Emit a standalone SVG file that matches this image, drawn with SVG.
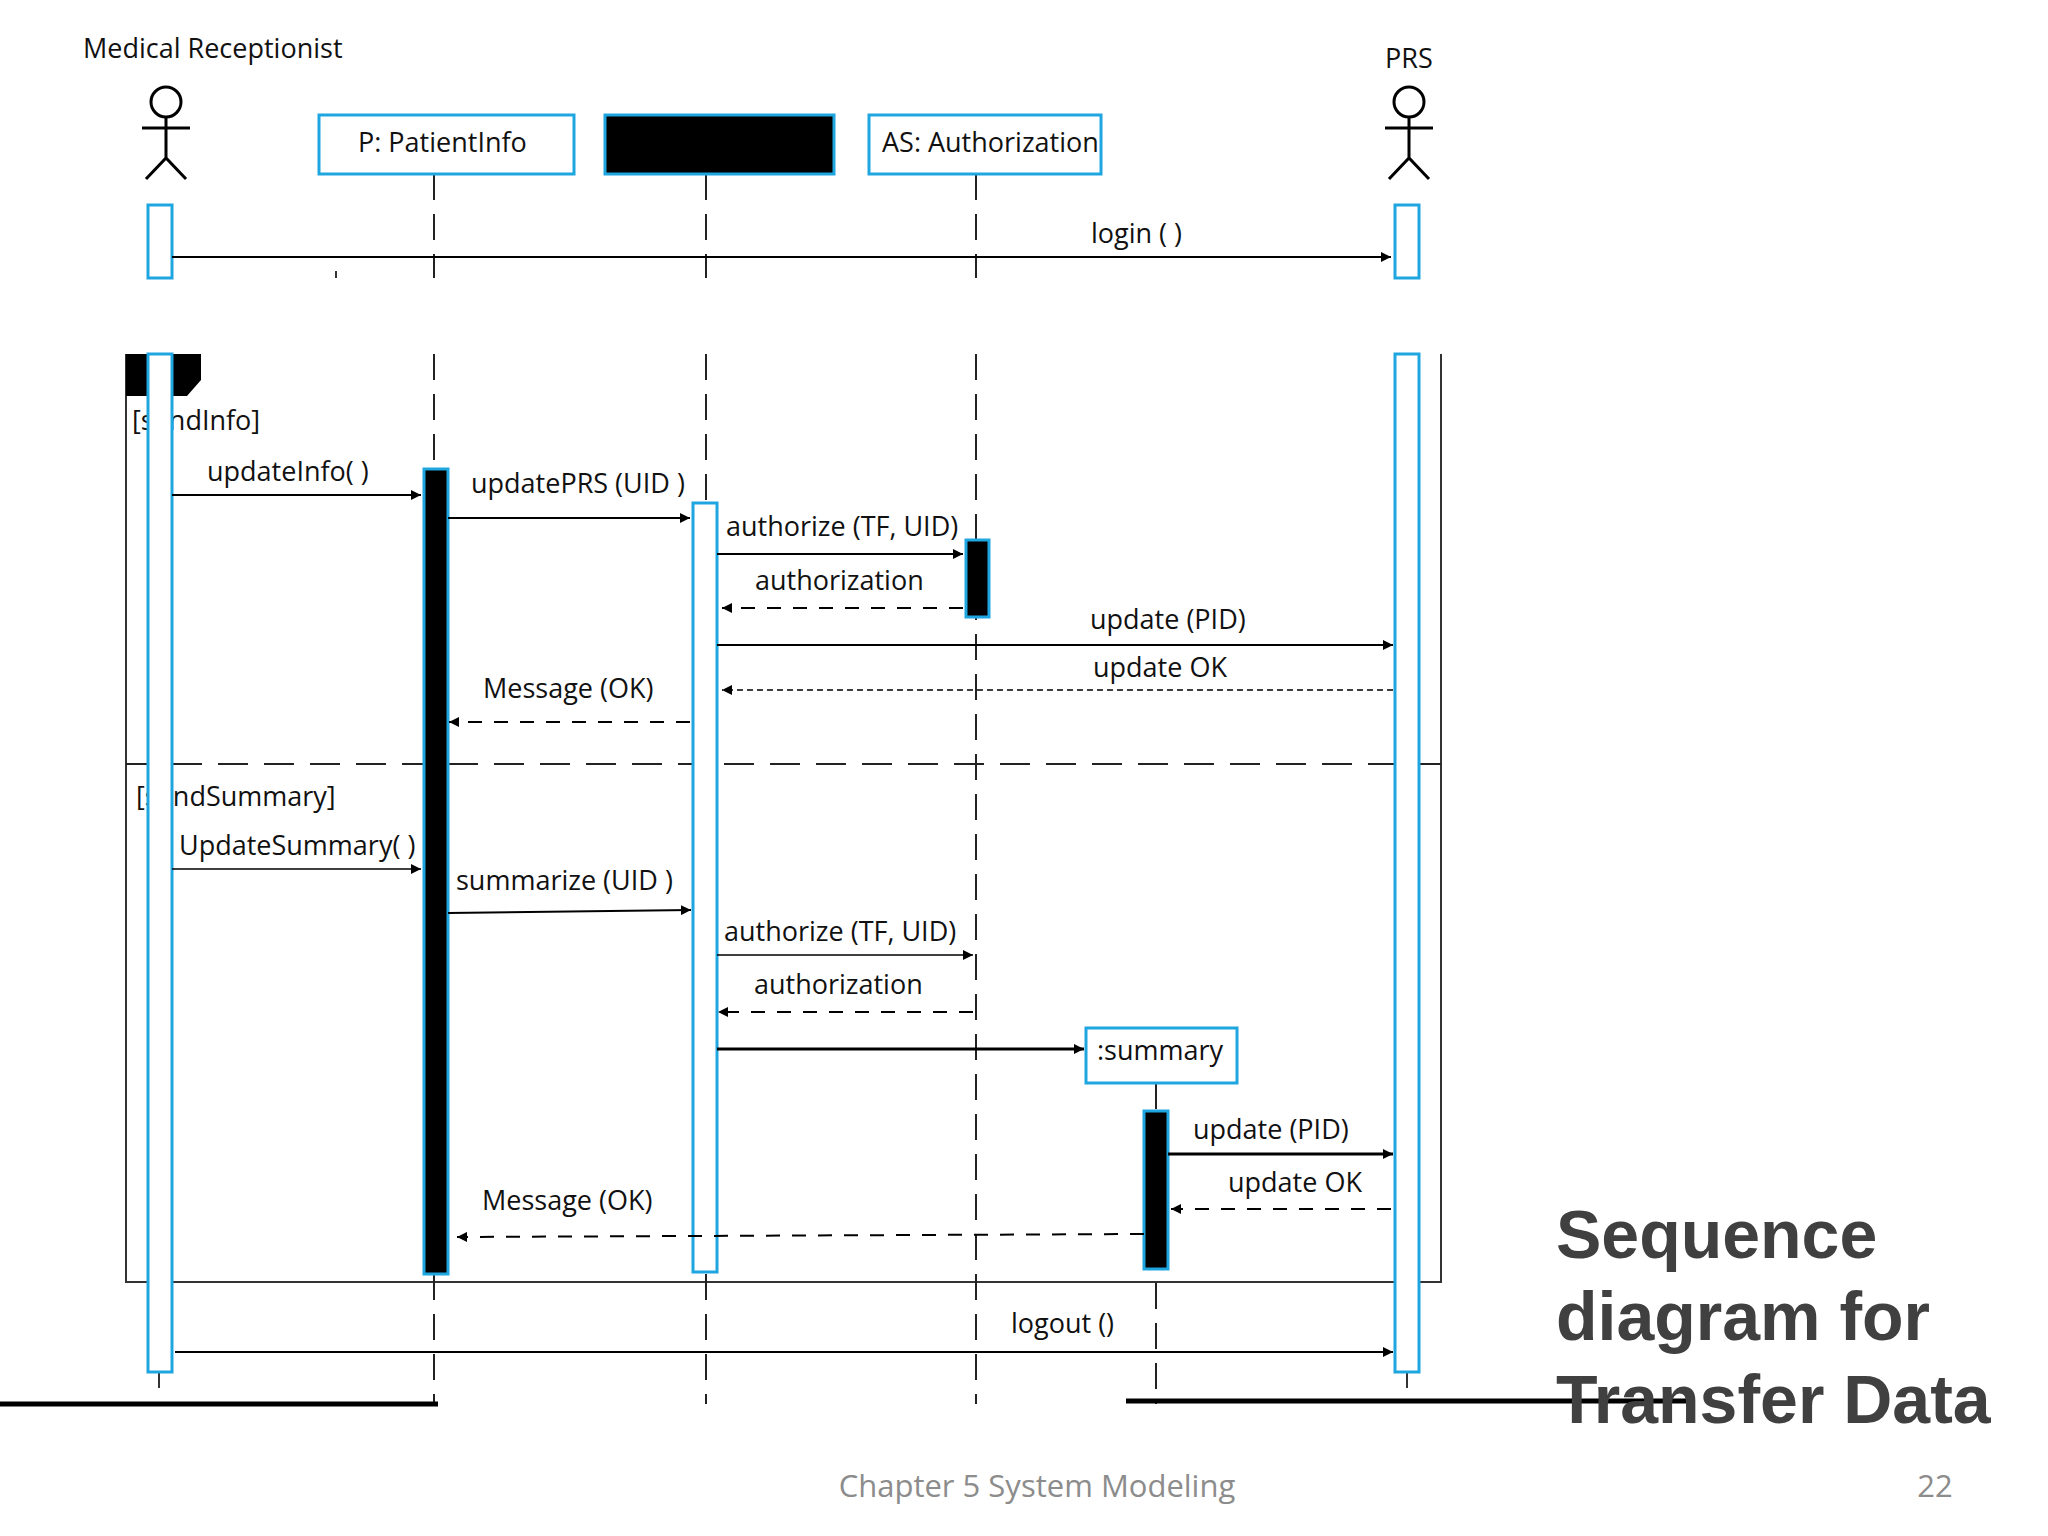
<svg xmlns="http://www.w3.org/2000/svg" width="2048" height="1536" viewBox="0 0 2048 1536">
<defs>
<marker id="ah" viewBox="0 0 10 10" refX="10" refY="5" markerWidth="10" markerHeight="10" markerUnits="userSpaceOnUse" orient="auto"><path d="M0,0 L10,5 L0,10 z" fill="#000"/></marker>
</defs>
<style>
text{font-family:"Open Sans","Noto Sans",sans-serif;fill:#111;font-size:27px}
.box{fill:#fff;stroke:#1ea6e0;stroke-width:3}
.act{fill:#fff;stroke:#1ea6e0;stroke-width:3}
.actb{fill:#000;stroke:#1ea6e0;stroke-width:3}
.ll{stroke:#222;stroke-width:2;stroke-dasharray:26,14;fill:none}
.msg{stroke:#000;stroke-width:2;fill:none;marker-end:url(#ah)}
.ret{stroke:#000;stroke-width:2;stroke-dasharray:14,12;fill:none;marker-end:url(#ah)}
.actor{stroke:#000;stroke-width:3;fill:none}
</style>
<rect width="2048" height="1536" fill="#fff"/>
<g id="frame">
<path d="M126,354 V1282 H1441 V354" fill="none" stroke="#333" stroke-width="2"/>
<path d="M126,354 H201 V380 L187,396 H126 Z" fill="#000"/>
<line x1="126" y1="764" x2="1441" y2="764" stroke="#222" stroke-width="2" stroke-dasharray="30,16"/>
<text x="132" y="430">[sendInfo]</text>
<text x="136" y="806">[sendSummary]</text>
</g>
<g id="lifelines">
<path class="ll" d="M434,174 V278 M434,354 V1404"/>
<path class="ll" d="M706,174 V278 M706,354 V1404"/>
<path class="ll" d="M976,174 V278 M976,354 V1404"/>
<path class="ll" d="M1156,1083 V1404"/>
<line x1="159" y1="1372" x2="159" y2="1388" stroke="#333" stroke-width="2"/>
<line x1="1407" y1="1372" x2="1407" y2="1388" stroke="#333" stroke-width="2"/>
<line x1="336" y1="271" x2="336" y2="278" stroke="#333" stroke-width="2"/>
</g>
<g id="receptionist">
<text x="83" y="58" font-size="26">Medical Receptionist</text>
<circle class="actor" cx="166" cy="102" r="15"/>
<path class="actor" d="M166,117 V158 M142,128 H190 M146,179 L166,158 L186,179"/>
<rect class="act" x="148" y="205" width="24" height="73"/>
<rect class="act" x="148" y="354" width="24" height="1018" style="stroke-dasharray:none"/>
</g>
<g id="prs">
<text x="1385" y="68" font-size="26">PRS</text>
<circle class="actor" cx="1409" cy="102" r="15"/>
<path class="actor" d="M1409,117 V158 M1385,128 H1433 M1389,179 L1409,158 L1429,179"/>
<rect class="act" x="1395" y="205" width="24" height="73"/>
<rect class="act" x="1395" y="354" width="24" height="1018"/>
</g>
<g id="patientinfo">
<rect class="box" x="319" y="115" width="255" height="59"/>
<text x="358" y="152">P: PatientInfo</text>
<rect class="actb" x="424" y="469" width="24" height="805"/>
</g>
<g id="hidden">
<rect x="605" y="115" width="229" height="59" fill="#000" stroke="#1ea6e0" stroke-width="3"/>
<rect class="act" x="693" y="503" width="24" height="769"/>
</g>
<g id="authorization">
<rect class="box" x="869" y="115" width="232" height="59"/>
<text x="882" y="152">AS: Authorization</text>
<rect class="actb" x="966" y="540" width="23" height="77"/>
</g>
<g id="summary">
<rect class="box" x="1086" y="1028" width="151" height="55"/>
<text x="1097" y="1060">:summary</text>
<rect class="actb" x="1144" y="1111" width="24" height="158"/>
</g>
<g id="connectors">
<line class="msg" x1="172" y1="257" x2="1391" y2="257"/>
<text x="1091" y="243">login ( )</text>
<line class="msg" x1="172" y1="495" x2="421" y2="495"/>
<text x="207" y="481">updateInfo( )</text>
<line class="msg" x1="448" y1="518" x2="690" y2="518"/>
<text x="471" y="493">updatePRS (UID )</text>
<line class="msg" x1="717" y1="554" x2="963" y2="554"/>
<text x="726" y="536">authorize (TF, UID)</text>
<line class="ret" x1="963" y1="608" x2="722" y2="608"/>
<text x="755" y="590">authorization</text>
<line class="msg" x1="717" y1="645" x2="1393" y2="645"/>
<text x="1090" y="629">update (PID)</text>
<line class="ret" x1="1393" y1="690" x2="722" y2="690" style="stroke-dasharray:6,4;stroke-width:1.5"/>
<text x="1093" y="677">update OK</text>
<line class="ret" x1="690" y1="722" x2="449" y2="722"/>
<text x="483" y="698">Message (OK)</text>
<line class="msg" x1="172" y1="869" x2="421" y2="869" style="stroke-width:1.5"/>
<text x="179" y="855">UpdateSummary( )</text>
<line class="msg" x1="448" y1="913" x2="691" y2="910"/>
<text x="456" y="890">summarize (UID )</text>
<line class="msg" x1="717" y1="955" x2="973" y2="955" style="stroke-width:1.5"/>
<text x="724" y="941">authorize (TF, UID)</text>
<line class="ret" x1="973" y1="1012" x2="718" y2="1012"/>
<text x="754" y="994">authorization</text>
<line class="msg" x1="717" y1="1049" x2="1084" y2="1049" style="stroke-width:3"/>
<line class="msg" x1="1168" y1="1154" x2="1393" y2="1154" style="stroke-width:3"/>
<text x="1193" y="1139">update (PID)</text>
<line class="ret" x1="1391" y1="1209" x2="1171" y2="1209"/>
<text x="1228" y="1192">update OK</text>
<line class="ret" x1="1144" y1="1234" x2="457" y2="1237"/>
<text x="482" y="1210">Message (OK)</text>
<line class="msg" x1="175" y1="1352" x2="1393" y2="1352"/>
<text x="1011" y="1333">logout ()</text>
</g>
<g id="decor">
<line x1="0" y1="1404" x2="438" y2="1404" stroke="#000" stroke-width="5"/>
<line x1="1126" y1="1401" x2="1689" y2="1401" stroke="#000" stroke-width="5"/>
<text x="1556" y="1258" style="font-family:'Liberation Sans',Arial,sans-serif;font-weight:bold;font-size:68px;fill:#404040">Sequence</text>
<text x="1556" y="1340" style="font-family:'Liberation Sans',Arial,sans-serif;font-weight:bold;font-size:68px;fill:#404040">diagram for</text>
<text x="1556" y="1423" style="font-family:'Liberation Sans',Arial,sans-serif;font-weight:bold;font-size:68px;fill:#404040">Transfer Data</text>
<text x="1037" y="1497" text-anchor="middle" style="font-size:31px;fill:#8c8c8c">Chapter 5 System Modeling</text>
<text x="1935" y="1497" text-anchor="middle" style="font-size:31px;fill:#8c8c8c">22</text>
</g>
</svg>
